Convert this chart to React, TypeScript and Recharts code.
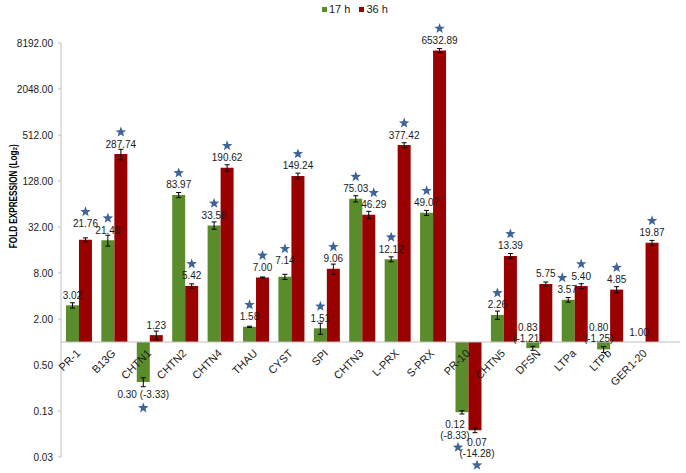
import { BarChart, Bar, XAxis, YAxis, ErrorBar, LabelList, ReferenceLine, Label } from "recharts";

const GREEN = "#5A8C2B";
const RED = "#990000";
const STAR = "#3E6499";
const AXIS = "#BFBFBF";
const FONT = "'Liberation Sans', Arial, sans-serif";

const genes = [
  "PR-1", "B13G", "CHTN1", "CHTN2", "CHTN4", "THAU", "CYST", "SPI", "CHTN3",
  "L-PRX", "S-PRX", "PR-10", "CHTN5", "DFSN", "LTPa", "LTPb", "GER1-20",
];
const seriesNames = ["17 h", "36 h"];

// fold change vs control
const fold17h = [3.02, 21.49, 0.3, 83.97, 33.58, 1.58, 7.14, 1.51, 75.03, 12.12, 49.07, 0.12, 2.26, 0.83, 3.57, 0.8, 1.0];
const fold36h = [21.76, 287.74, 1.23, 5.42, 190.62, 7.0, 149.24, 9.06, 46.29, 377.42, 6532.89, 0.07, 13.39, 5.75, 5.4, 4.85, 19.87];

// negative fold for down-regulated genes
const down17h = [null, null, -3.33, null, null, null, null, null, null, null, null, -8.33, null, -1.21, null, -1.25, null];
const down36h = [null, null, null, null, null, null, null, null, null, null, null, -14.28, null, null, null, null, null];

// standard error
const err17h = [0.24, 3.5, 0.04, 6.5, 3.7, 0.03, 0.55, 0.25, 7, 0.9, 3.7, 0.006, 0.28, 0.05, 0.25, 0.07, 0];
const err36h = [1.3, 45, 0.16, 0.35, 18, 0.1, 13, 1.4, 5, 28, 400, 0.005, 1.0, 0.35, 0.4, 0.45, 1.5];

// significance stars
const sig17h = [false, true, true, true, true, true, true, true, true, true, true, true, true, false, true, false, false];
const sig36h = [true, true, false, true, true, true, true, true, true, true, true, true, true, false, true, true, true];

const yTicks = [0.03125, 0.125, 0.5, 2, 8, 32, 128, 512, 2048, 8192];
const yTickLabels = ["0.03", "0.13", "0.50", "2.00", "8.00", "32.00", "128.00", "512.00", "2048.00", "8192.00"];

const data = genes.map((gene, i) => ({
  gene,
  h17: [1, fold17h[i]],
  h36: [1, fold36h[i]],
  e17: err17h[i],
  e36: err36h[i],
}));

// bars in left-to-right order, used to keep neighbouring labels apart
const sequence = genes.flatMap((_, i) => [fold17h[i], fold36h[i]]);

function Star({ cx, cy, r = 5.5 }: { cx: number; cy: number; r?: number }) {
  const pts: string[] = [];
  for (let k = 0; k < 10; k++) {
    const rad = k % 2 === 0 ? r : r * 0.42;
    const a = -Math.PI / 2 + (k * Math.PI) / 5;
    pts.push(`${cx + rad * Math.cos(a)},${cy + rad * Math.sin(a)}`);
  }
  return <polygon points={pts.join(" ")} fill={STAR} />;
}

function barBox(props: any) {
  const vb = props.viewBox ?? props;
  const x = Number(vb.x ?? props.x);
  const y = Number(vb.y ?? props.y);
  const w = Number(vb.width ?? props.width);
  const h = Number(vb.height ?? props.height);
  return { x, w, top: Math.min(y, y + h), bottom: Math.max(y, y + h) };
}

function T({ x, y, children }: { x: number; y: number; children: any }) {
  return (
    <text x={x} y={y} textAnchor="middle" dominantBaseline="central" fontSize={10} fontFamily={FONT} fill="#1a1a1a">
      {children}
    </text>
  );
}

function upLabel(series: 0 | 1, i: number, cx: number, top: number) {
  const vals = series === 0 ? fold17h : fold36h;
  const sig = series === 0 ? sig17h : sig36h;
  const v = vals[i];
  const j = i * 2 + series;
  let lift = 0;
  let dxLabel = 0;
  let dxStar = 0;
  // neighbours with almost the same height: the taller one goes up
  for (const n of [sequence[j - 1], sequence[j + 1]]) {
    if (n != null && n >= 1 && v > n && Math.abs(Math.log2(v / n)) < 0.35) lift = 6;
  }
  // within a gene, the lower bar's label moves outward from the taller one
  const partner = series === 0 ? fold36h[i] : fold17h[i];
  if (partner > v && Math.log2(partner / v) < 0.8) {
    dxLabel = series === 0 ? -1 : 5;
    dxStar = series === 0 ? -6 : 5;
  }
  return (
    <g>
      <T x={cx + dxLabel} y={top - 10 - lift}>{v.toFixed(2)}</T>
      {sig[i] && <Star cx={cx + dxStar} cy={top - 22 - lift} />}
    </g>
  );
}

function valueLabel(series: 0 | 1) {
  const vals = series === 0 ? fold17h : fold36h;
  const other = series === 0 ? fold36h : fold17h;
  const down = series === 0 ? down17h : down36h;
  const sig = series === 0 ? sig17h : sig36h;
  return (props: any) => {
    const i = props.index;
    const { x, w, top, bottom } = barBox(props);
    const cx = x + w / 2;
    const v = vals[i];
    const txt = v.toFixed(2);
    const d = down[i] != null ? `(${(down[i] as number).toFixed(2)})` : "";
    const extra =
      series === 1 && fold17h[i] === 1 ? upLabel(0, i, x - w / 2, fold36h[i] >= 1 ? bottom : top) : null;
    if (series === 0 && v === 1) return null;
    if (v >= 1) {
      return (
        <g>
          {extra}
          {upLabel(series, i, cx, top)}
        </g>
      );
    }
    if (v >= 0.5) {
      const lx = cx - 5;
      return (
        <g>
          <T x={lx} y={top - 15}>{txt}</T>
          <T x={lx} y={top - 4}>{d}</T>
          {sig[i] && <Star cx={lx} cy={top - 27} />}
        </g>
      );
    }
    if (other[i] < 1) {
      const lx = series === 0 ? cx - 7 : cx + 2;
      return (
        <g>
          <T x={lx} y={bottom + 12}>{txt}</T>
          <T x={lx} y={bottom + 23}>{d}</T>
          {sig[i] && <Star cx={lx + (series === 0 ? 3 : 0)} cy={bottom + 35} />}
        </g>
      );
    }
    return (
      <g>
        <T x={cx} y={bottom + 13}>{`${txt} ${d}`}</T>
        {sig[i] && <Star cx={cx} cy={bottom + 26} />}
      </g>
    );
  };
}

// drawn from the 36 h bar: its left edge is the centre of the gene's group
function categoryLabel(props: any) {
  const i = props.index;
  const { x, top, bottom } = barBox(props);
  const base = fold36h[i] >= 1 ? bottom : top;
  const ax = x + 2;
  const ay = base + 12;
  return (
    <text x={ax} y={ay} transform={`rotate(-45 ${ax} ${ay})`} textAnchor="end" fontSize={11} fontFamily={FONT} fill="#1a1a1a">
      {genes[i]}
    </text>
  );
}

function AxisTitle(props: any) {
  const vb = props.viewBox;
  const tx = vb.x + 5;
  const ty = vb.y + vb.height * 0.37;
  return (
    <text
      x={tx}
      y={ty}
      transform={`rotate(-90 ${tx} ${ty})`}
      textAnchor="middle"
      dominantBaseline="central"
      fontSize={11}
      fontWeight="bold"
      fontFamily={FONT}
      fill="#000"
      textLength={104}
      lengthAdjust="spacingAndGlyphs"
    >
      FOLD EXPRESSION (Log₂)
    </text>
  );
}

export default function App() {
  return (
    <div style={{ position: "absolute", left: 0, top: 0, width: 686, height: 473, background: "#fff", fontFamily: FONT }}>
      <div style={{ position: "absolute", top: 3, left: 322, display: "flex", alignItems: "center", fontSize: 11, color: "#1a1a1a" }}>
        {seriesNames.map((name, k) => (
          <div key={name} style={{ display: "flex", alignItems: "center", marginRight: 9 }}>
            <span style={{ width: 5, height: 5, background: k === 0 ? GREEN : RED, marginRight: 2, display: "inline-block" }} />
            <span>{name}</span>
          </div>
        ))}
      </div>
      <BarChart
        width={686}
        height={473}
        data={data}
        margin={{ top: 43, right: 6, bottom: 16, left: 8 }}
        barCategoryGap="14%"
        barGap={0}
      >
        <XAxis dataKey="gene" hide padding={{ left: 0, right: 17 }} />
        <YAxis
          scale="log"
          type="number"
          domain={[0.03125, 8192]}
          allowDataOverflow
          ticks={yTicks}
          interval={0}
          width={53}
          tickSize={3}
          tickMargin={5}
          axisLine={{ stroke: AXIS }}
          tickLine={{ stroke: AXIS }}
          tick={{ fontSize: 10, fill: "#1a1a1a", fontFamily: FONT }}
          tickFormatter={(v: number) => yTickLabels[yTicks.indexOf(v)] ?? String(v)}
        >
          <Label content={AxisTitle} position="insideLeft" />
        </YAxis>
        <ReferenceLine y={1} stroke={AXIS} />
        <Bar dataKey="h17" fill={GREEN} isAnimationActive={false}>
          <ErrorBar dataKey="e17" width={2.5} stroke="#000" strokeWidth={1} direction="y" />
          <LabelList content={valueLabel(0)} />
        </Bar>
        <Bar dataKey="h36" fill={RED} isAnimationActive={false}>
          <ErrorBar dataKey="e36" width={2.5} stroke="#000" strokeWidth={1} direction="y" />
          <LabelList content={valueLabel(1)} />
          <LabelList content={categoryLabel} />
        </Bar>
      </BarChart>
    </div>
  );
}
